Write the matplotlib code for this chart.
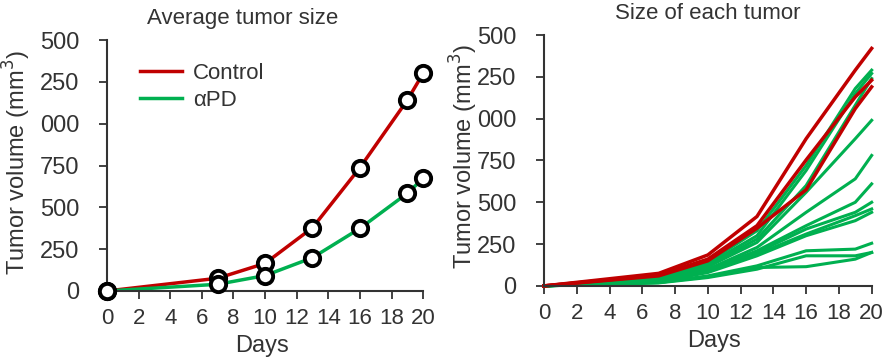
import matplotlib
matplotlib.use("Agg")
import matplotlib.pyplot as plt

plt.rcParams['font.family'] = ['Liberation Sans', 'DejaVu Sans']

RED = '#c00000'
GREEN = '#00b050'

days = [0, 7, 10, 13, 16, 19, 20]
ytick_vals = [0, 250, 500, 750, 1000, 1250, 1500]
ytick_text = ['0', '250', '500', '750', '000', '250', '500']
xtick_vals = [0, 2, 4, 6, 8, 10, 12, 14, 16, 18, 20]

# average tumour size
control_mean = [0, 76, 165, 378, 737, 1141, 1301]
apd_mean = [0, 40, 92, 199, 374, 584, 673]

# individual tumours
control_each = [
    [0, 75, 185, 415, 880, 1290, 1420],
    [0, 65, 160, 360, 753, 1130, 1230],
    [0, 60, 150, 345, 575, 1060, 1190],
]
apd_each = [
    [0, 45, 140, 330, 720, 1180, 1290],
    [0, 40, 130, 300, 690, 1150, 1270],
    [0, 35, 120, 280, 600, 1080, 1240],
    [0, 35, 115, 260, 560, 880, 990],
    [0, 30, 100, 230, 440, 640, 780],
    [0, 30, 95, 210, 360, 500, 610],
    [0, 28, 90, 200, 340, 440, 500],
    [0, 25, 85, 190, 310, 420, 460],
    [0, 25, 80, 180, 300, 390, 440],
    [0, 20, 60, 120, 210, 220, 255],
    [0, 18, 50, 100, 180, 180, 200],
    [0, 20, 55, 110, 115, 160, 200],
]

fig = plt.figure(figsize=(8.88, 3.61), dpi=100)
ax1 = fig.add_axes([0.1205, 0.194, 0.356, 0.695])
ax2 = fig.add_axes([0.6126, 0.208, 0.369, 0.695])


def style(ax):
    for s in ['top', 'right']:
        ax.spines[s].set_visible(False)
    for s in ['left', 'bottom']:
        ax.spines[s].set_color('#333333')
        ax.spines[s].set_linewidth(1.5)
    ax.set_xlim(0, 20)
    ax.set_ylim(0, 1500)
    ax.set_xticks(xtick_vals)
    ax.set_xticklabels([str(v) for v in xtick_vals], fontsize=16)
    ax.set_yticks(ytick_vals)
    ax.set_yticklabels(ytick_text, fontsize=17)
    ax.tick_params(axis='both', direction='out', length=6, width=1.3,
                   colors='#333333', labelcolor='#333333')
    ax.tick_params(axis='x', pad=6)
    ax.tick_params(axis='y', pad=14)
    ax.set_ylabel('Tumor volume (mm$^3$)', fontsize=17, color='#333333')
    ax.set_xlabel('Days', fontsize=17, color='#333333')


# left: averages
style(ax1)
ax1.plot(days, control_mean, color=RED, lw=2.5, label='Control', zorder=2)
ax1.plot(days, apd_mean, color=GREEN, lw=2.5, label='αPD', zorder=2)
for vals in (control_mean, apd_mean):
    ax1.plot(days, vals, 'o', ms=11, mfc='white', mec='black', mew=2.8,
             clip_on=False, zorder=3)
ax1.legend(loc='upper left', bbox_to_anchor=(0.04, 0.99), frameon=False,
           fontsize=16, handlelength=1.9, handletextpad=0.5, labelspacing=0.3,
           labelcolor='#333333')
ax1.set_title('Average tumor size', fontsize=16, color='#333333', x=0.43, y=1.03)
ax1.yaxis.set_label_coords(-0.234, 0.51)
ax1.xaxis.set_label_coords(0.49, -0.175)

# right: each tumour
style(ax2)
for vals in apd_each:
    ax2.plot(days, vals, color=GREEN, lw=2.2, clip_on=False)
for vals in control_each:
    ax2.plot(days, vals, color=RED, lw=2.5, clip_on=False)
ax2.set_title('Size of each tumor', fontsize=16, color='#333333', y=1.03)
ax2.yaxis.set_label_coords(-0.195, 0.515)
ax2.xaxis.set_label_coords(0.52, -0.175)

fig.savefig('out.png', dpi=100)
